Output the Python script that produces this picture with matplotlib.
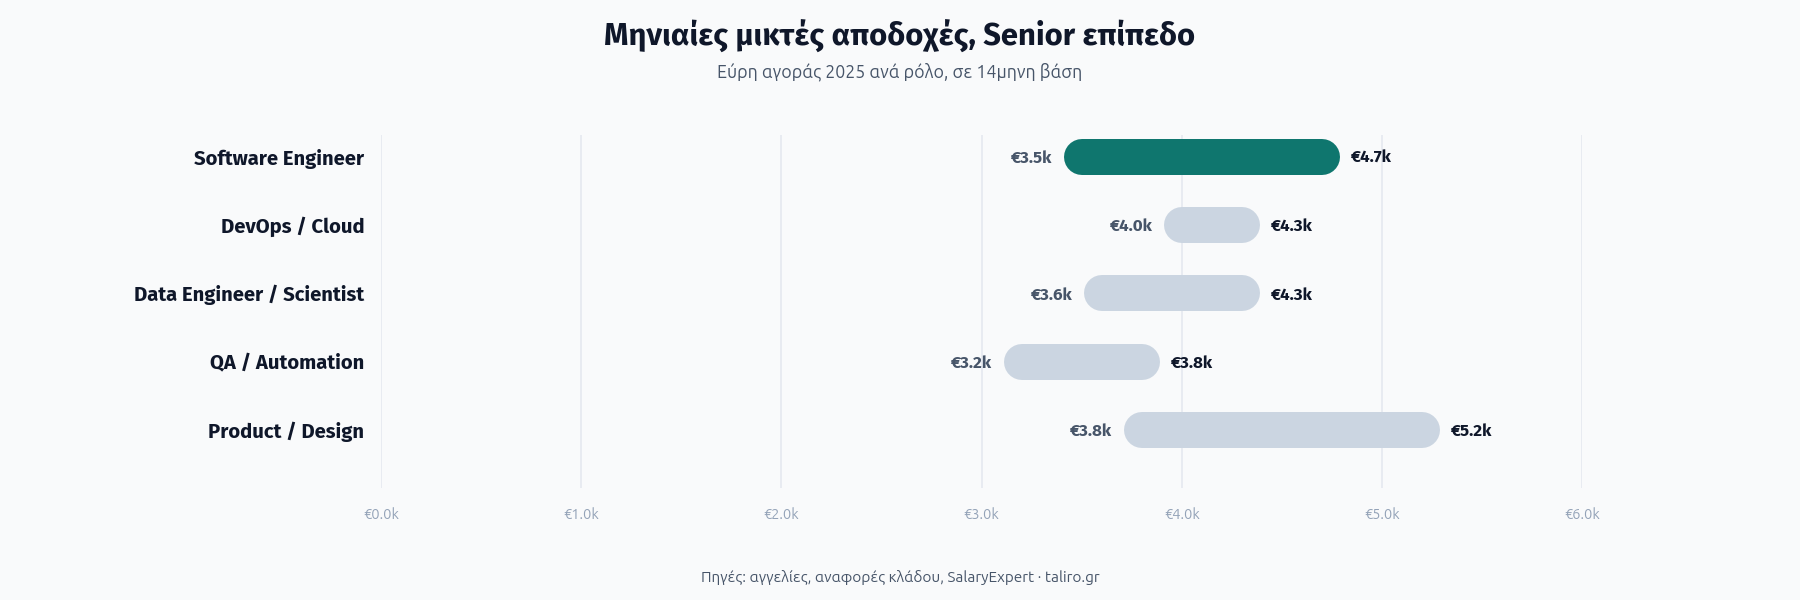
import os
import matplotlib
matplotlib.use("Agg")
import matplotlib.pyplot as plt
from matplotlib import font_manager as fm
from matplotlib.ticker import FuncFormatter, MultipleLocator

UB_REG = "/usr/share/fonts/truetype/ubuntu/Ubuntu-R.ttf"

def reg(size):
    if os.path.exists(UB_REG):
        return fm.FontProperties(fname=UB_REG, size=size)
    return fm.FontProperties(family=["Fira Sans", "DejaVu Sans"], size=size)

def bold(size):
    return fm.FontProperties(family=["Fira Sans", "DejaVu Sans"], weight="bold", size=size)

roles = ["Software Engineer", "DevOps / Cloud", "Data Engineer / Scientist",
         "QA / Automation", "Product / Design"]
low = [3.5, 4.0, 3.6, 3.2, 3.8]
high = [4.7, 4.3, 4.3, 3.8, 5.2]
highlight = [True, False, False, False, False]

title = "Μηνιαίες μικτές αποδοχές, Senior επίπεδο"
subtitle = "Εύρη αγοράς 2025 ανά ρόλο, σε 14μηνη βάση"
footer = "Πηγές: αγγελίες, αναφορές κλάδου, SalaryExpert · taliro.gr"

BG = "#f9fafb"
TEAL = "#0f766e"
GREY = "#cbd5e1"
DARK = "#0f172a"
MID = "#475569"
LIGHT = "#94a3b8"
GRID = "#e5e9ef"

fig = plt.figure(figsize=(18, 6), dpi=100, facecolor=BG)
renderer = fig.canvas.get_renderer()

def fit_size(text, target_px, size0):
    """Font size (bold family) giving the target rendered width in pixels."""
    size = size0
    for _ in range(3):
        t = fig.text(0, 0, text, fontproperties=bold(size))
        w = t.get_window_extent(renderer).width
        t.remove()
        if w > 0:
            size *= target_px / w
    return size

title_size = fit_size(title, 591, 21.5)
ylab_size = fit_size("Software Engineer", 170, 13.5)
val_size = fit_size("€4.7k", 41, 11.5)

ax = fig.add_axes([0.2117, 0.187, 0.8789 - 0.2117, 0.775 - 0.187])
ax.set_facecolor(BG)

bar_px = 36
lw = bar_px * 72 / fig.dpi
for i, (lo, hi, hl) in enumerate(zip(low, high, highlight)):
    ax.plot([lo, hi], [i, i], color=TEAL if hl else GREY, linewidth=lw,
            solid_capstyle='round', zorder=3)
    ax.annotate(f"€{lo:.1f}k", (lo, i), xytext=(-21, 0), textcoords='offset points',
                ha='right', va='center_baseline', fontproperties=bold(val_size), color=MID)
    ax.annotate(f"€{hi:.1f}k", (hi, i), xytext=(21, 0), textcoords='offset points',
                ha='left', va='center_baseline', fontproperties=bold(val_size), color=DARK)

ax.set_xlim(0, 6)
ax.set_ylim(len(roles) - 1 + 0.85, -0.32)
ax.xaxis.set_major_locator(MultipleLocator(1))
ax.xaxis.set_major_formatter(FuncFormatter(lambda v, p: f"€{v:.1f}k"))
ax.set_yticks(range(len(roles)))
ax.set_yticklabels(roles, color=DARK)
for lab in ax.get_yticklabels():
    lab.set_fontproperties(bold(ylab_size))
for lab in ax.get_xticklabels():
    lab.set_fontproperties(reg(10.5))
ax.tick_params(axis='y', length=0, pad=12)
ax.tick_params(axis='x', length=0, pad=14, labelcolor=LIGHT)
ax.grid(axis='x', color=GRID, linewidth=1.2, zorder=0)
for s in ax.spines.values():
    s.set_visible(False)

fig.text(0.5, 0.940, title, ha='center', va='center', fontproperties=bold(title_size), color=DARK)
fig.text(0.5, 0.881, subtitle, ha='center', va='center', fontproperties=reg(12.8), color=MID)
fig.text(0.5, 0.037, footer, ha='center', va='center', fontproperties=reg(11), color=MID)

fig.savefig("out.png", dpi=100, facecolor=BG)
